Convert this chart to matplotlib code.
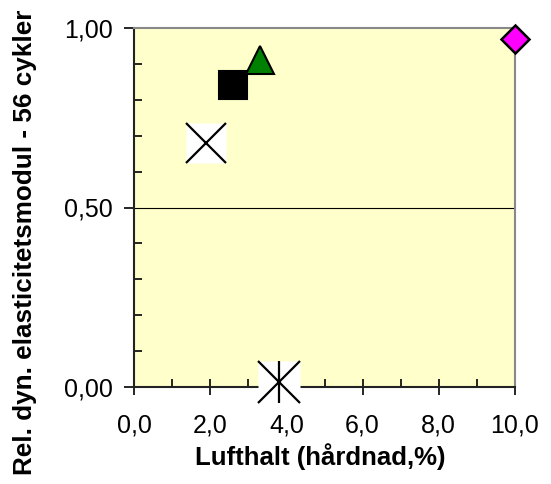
import matplotlib
matplotlib.use("Agg")
from matplotlib import pyplot as plt
from matplotlib.ticker import MultipleLocator, FuncFormatter

plt.rcParams['font.family'] = ['Liberation Sans', 'DejaVu Sans']

# data (x = Lufthalt %, y = rel. dyn. E-modul)
cross_x, cross_y = [1.9], [0.68]
square_x, square_y = [2.6], [0.84]
tri_x, tri_y = [3.3], [0.91]
star_x, star_y = [3.8], [0.015]
diamond_x, diamond_y = [10.0], [0.97]

fig = plt.figure(figsize=(5.51, 4.84), dpi=100)
ax = fig.add_axes([134/551, 1-387/484, 381/551, 359/484])
ax.set_facecolor('#FFFFCC')
ax.set_xlim(0, 10)
ax.set_ylim(0, 1)

ax.axhline(0.5, color='black', lw=0.8, zorder=1)

# X marker on white square
ax.plot(cross_x, cross_y, 's', ms=29, mfc='white', mec='none', clip_on=False, zorder=5)
ax.plot(cross_x, cross_y, 'x', ms=29, mew=1.6, color='black', clip_on=False, zorder=6)
# filled square
ax.plot(square_x, square_y, 's', ms=20, mfc='black', mec='black', mew=1.5, clip_on=False, zorder=5)
# green triangle
ax.plot(tri_x, tri_y, '^', ms=20, mfc='green', mec='black', mew=1.5, clip_on=False, zorder=5)
# asterisk on white square
ax.plot(star_x, star_y, 's', ms=30, mfc='white', mec='none', clip_on=False, zorder=5)
ax.plot(star_x, star_y, 'x', ms=30, mew=1.6, color='black', clip_on=False, zorder=6)
ax.plot(star_x, star_y, '|', ms=30, mew=1.6, color='black', clip_on=False, zorder=6)
# magenta diamond
ax.plot(diamond_x, diamond_y, 'D', ms=14, mfc='magenta', mec='black', mew=1.8, clip_on=False, zorder=7)

ax.xaxis.set_major_locator(MultipleLocator(2))
ax.xaxis.set_minor_locator(MultipleLocator(1))
ax.yaxis.set_major_locator(MultipleLocator(0.5))
ax.yaxis.set_minor_locator(MultipleLocator(0.1))
ax.xaxis.set_major_formatter(FuncFormatter(lambda v, p: f"{v:.1f}".replace('.', ',')))
ax.yaxis.set_major_formatter(FuncFormatter(lambda v, p: f"{v:.2f}".replace('.', ',')))

ax.tick_params(axis='x', which='major', direction='inout', length=12, width=1.2, labelsize=18, pad=13)
ax.tick_params(axis='x', which='minor', direction='in', length=6, width=1.2)
ax.tick_params(axis='y', which='major', direction='out', length=7, width=1.2, labelsize=18, pad=8)
ax.tick_params(axis='y', which='minor', direction='in', length=6, width=1.2)

for s in ['left', 'bottom']:
    ax.spines[s].set_color('#222222')
    ax.spines[s].set_linewidth(1.5)
for s in ['top', 'right']:
    ax.spines[s].set_color('#888888')
    ax.spines[s].set_linewidth(1.5)

fig.text(320/551, 1-465/484, 'Lufthalt (hårdnad,%)', fontsize=18.5, fontweight='bold',
         ha='center', va='baseline')
fig.text(32/551, 1-242/484, 'Rel. dyn. elasticitetsmodul - 56 cykler', rotation=90,
         rotation_mode='anchor', fontsize=18.8, fontweight='bold', ha='center', va='baseline')

fig.savefig('out.png', dpi=100)
